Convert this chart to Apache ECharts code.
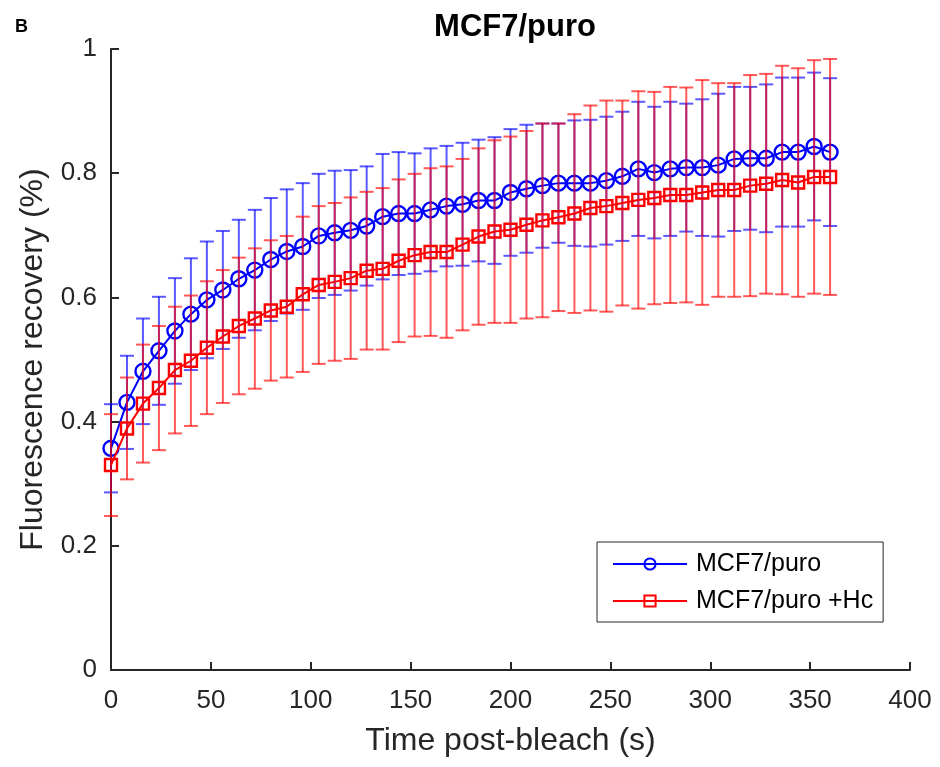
<!DOCTYPE html>
<html>
<head>
<meta charset="utf-8">
<script src="https://cdn.jsdelivr.net/npm/echarts@6/dist/echarts.min.js"></script>
<style>
  html, body { margin: 0; padding: 0; background: #fff; }
  #chart { width: 940px; height: 767px; }
</style>
</head>
<body>
<div id="chart"></div>
<script>
// time points (s)
const timeSec = [0, 8, 16, 24, 32, 40, 48, 56, 64, 72, 80, 88, 96, 104, 112, 120,
  128, 136, 144, 152, 160, 168, 176, 184, 192, 200, 208, 216, 224, 232, 240,
  248, 256, 264, 272, 280, 288, 296, 304, 312, 320, 328, 336, 344, 352, 360];

// MCF7/puro
const puroMean = [0.357, 0.431, 0.481, 0.514, 0.546, 0.573, 0.596, 0.612, 0.630, 0.644,
  0.661, 0.674, 0.682, 0.699, 0.704, 0.708, 0.715, 0.730, 0.735, 0.735,
  0.741, 0.747, 0.750, 0.756, 0.756, 0.769, 0.775, 0.780, 0.784, 0.784,
  0.784, 0.788, 0.795, 0.807, 0.801, 0.807, 0.809, 0.809, 0.813, 0.823,
  0.824, 0.824, 0.834, 0.834, 0.843, 0.834];
const puroErr = [0.071, 0.075, 0.085, 0.087, 0.085, 0.090, 0.094, 0.095, 0.095, 0.097,
  0.099, 0.100, 0.102, 0.100, 0.100, 0.097, 0.096, 0.101, 0.099, 0.097,
  0.099, 0.097, 0.099, 0.098, 0.102, 0.102, 0.103, 0.100, 0.096, 0.101,
  0.102, 0.103, 0.104, 0.108, 0.106, 0.108, 0.103, 0.110, 0.115, 0.116,
  0.115, 0.119, 0.120, 0.120, 0.119, 0.119];

// MCF7/puro +Hc
const hcMean = [0.330, 0.389, 0.429, 0.454, 0.483, 0.498, 0.519, 0.537, 0.554, 0.566,
  0.579, 0.585, 0.605, 0.620, 0.625, 0.631, 0.643, 0.646, 0.659, 0.668,
  0.673, 0.673, 0.685, 0.698, 0.706, 0.709, 0.717, 0.724, 0.729, 0.735,
  0.744, 0.747, 0.752, 0.757, 0.760, 0.765, 0.765, 0.769, 0.773, 0.773,
  0.780, 0.783, 0.789, 0.785, 0.794, 0.794];
const hcErr = [0.082, 0.082, 0.095, 0.100, 0.102, 0.105, 0.107, 0.107, 0.110, 0.113,
  0.113, 0.114, 0.125, 0.127, 0.127, 0.130, 0.127, 0.130, 0.131, 0.131,
  0.135, 0.138, 0.138, 0.142, 0.147, 0.150, 0.151, 0.156, 0.151, 0.160,
  0.165, 0.170, 0.165, 0.175, 0.171, 0.174, 0.173, 0.181, 0.172, 0.172,
  0.178, 0.177, 0.184, 0.184, 0.188, 0.190];

const AXIS_COLOR = '#262626';
const FONT = 'Liberation Sans, Arial, sans-serif';

const chart = echarts.init(document.getElementById('chart'));

// 误差线: [x, low, high]
const errData = (mean, err) => timeSec.map((t, i) => [t, mean[i] - err[i], mean[i] + err[i]]);
const lineData = (mean) => timeSec.map((t, i) => [t, mean[i]]);

const errRender = (color) => (params, api) => {
  const x = api.value(0);
  const lo = api.coord([x, api.value(1)]);
  const hi = api.coord([x, api.value(2)]);
  const w = 7;
  const style = { stroke: color, lineWidth: 2 };
  return {
    type: 'group',
    children: [
      { type: 'line', shape: { x1: lo[0], y1: lo[1], x2: hi[0], y2: hi[1] }, style },
      { type: 'line', shape: { x1: lo[0] - w, y1: lo[1], x2: lo[0] + w, y2: lo[1] }, style },
      { type: 'line', shape: { x1: hi[0] - w, y1: hi[1], x2: hi[0] + w, y2: hi[1] }, style },
    ],
  };
};

const option = {
  animation: false,
  backgroundColor: '#fff',
  textStyle: { fontFamily: FONT },
  title: [
    {
      text: 'MCF7/puro',
      left: 510,
      textAlign: 'center',
      top: 7,
      textStyle: { fontFamily: FONT, fontSize: 31, fontWeight: 'bold', color: '#000' },
    },
    {
      text: 'B',
      left: 10,
      top: 13,
      textStyle: { fontFamily: FONT, fontSize: 18, fontWeight: 'bold', color: '#000' },
    },
  ],
  grid: { left: 111, right: 30, top: 49, bottom: 97, containLabel: false },
  legend: {
    data: ['MCF7/puro', 'MCF7/puro +Hc'],
    orient: 'vertical',
    left: 597,
    top: 542,
    padding: [7, 10, 6, 15],
    itemGap: 7,
    itemWidth: 74,
    itemHeight: 14,
    borderColor: AXIS_COLOR,
    borderWidth: 1,
    borderRadius: 0,
    backgroundColor: '#fff',
    textStyle: { fontFamily: FONT, fontSize: 25, color: '#000', lineHeight: 30, padding: [0, 0, 0, 4] },
  },
  xAxis: {
    type: 'value',
    min: 0,
    max: 400,
    interval: 50,
    name: 'Time post-bleach (s)',
    nameLocation: 'middle',
    nameGap: 55,
    nameTextStyle: { fontFamily: FONT, fontSize: 32, color: AXIS_COLOR },
    axisLine: { show: true, lineStyle: { color: AXIS_COLOR, width: 2 } },
    axisTick: { show: true, inside: true, length: 8, lineStyle: { color: AXIS_COLOR, width: 2 } },
    axisLabel: { fontFamily: FONT, fontSize: 26, color: AXIS_COLOR, margin: 18 },
    splitLine: { show: false },
  },
  yAxis: {
    type: 'value',
    min: 0,
    max: 1,
    interval: 0.2,
    name: 'Fluorescence recovery (%)',
    nameLocation: 'middle',
    nameGap: 62,
    nameTextStyle: { fontFamily: FONT, fontSize: 32, color: AXIS_COLOR },
    axisLine: { show: true, lineStyle: { color: AXIS_COLOR, width: 2 } },
    axisTick: { show: true, inside: true, length: 8, lineStyle: { color: AXIS_COLOR, width: 2 } },
    axisLabel: { fontFamily: FONT, fontSize: 26, color: AXIS_COLOR, margin: 14 },
    splitLine: { show: false },
  },
  series: [
    {
      name: 'puroErr',
      type: 'custom',
      z: 2,
      renderItem: errRender('rgba(0,0,255,0.65)'),
      encode: { x: 0, y: [1, 2] },
      data: errData(puroMean, puroErr),
    },
    {
      name: 'MCF7/puro',
      type: 'line',
      z: 3,
      data: lineData(puroMean),
      symbol: 'circle',
      symbolSize: 15,
      showAllSymbol: true,
      itemStyle: { color: 'rgba(0,0,0,0)', borderColor: '#0000ff', borderWidth: 2.4 },
      lineStyle: { color: '#0000ff', width: 2 },
    },
    {
      name: 'hcErr',
      type: 'custom',
      z: 4,
      renderItem: errRender('rgba(255,0,0,0.65)'),
      encode: { x: 0, y: [1, 2] },
      data: errData(hcMean, hcErr),
    },
    {
      name: 'MCF7/puro +Hc',
      type: 'line',
      z: 5,
      data: lineData(hcMean),
      symbol: 'rect',
      symbolSize: 12,
      showAllSymbol: true,
      itemStyle: { color: 'rgba(0,0,0,0)', borderColor: '#ff0000', borderWidth: 2.4 },
      lineStyle: { color: '#ff0000', width: 2 },
    },
  ],
};

chart.setOption(option);
window.addEventListener('resize', () => chart.resize());
</script>
</body>
</html>
